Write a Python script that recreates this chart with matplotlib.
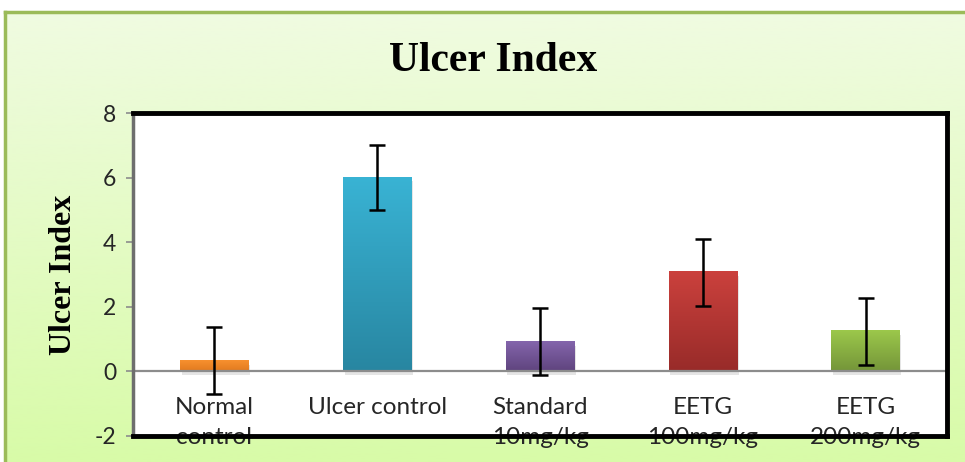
import numpy as np
import matplotlib.pyplot as plt
from matplotlib.colors import LinearSegmentedColormap
from matplotlib.patches import Rectangle

plt.rcParams["axes.unicode_minus"] = False

# Data
groups = ["Normal\ncontrol", "Ulcer control", "Standard\n10mg/kg", "EETG\n100mg/kg", "EETG\n200mg/kg"]
ulcer_index = [0.33, 6.0, 0.92, 3.07, 1.24]
sem = [1.03, 1.0, 1.03, 1.03, 1.03]
y_ticks = [-2, 0, 2, 4, 6, 8]

# gradient (top, bottom) for each bar
bar_colors = [("#f7912f", "#e27a1f"), ("#39b3d4", "#2886a1"), ("#8465ac", "#5f447e"),
              ("#cb413d", "#982b29"), ("#9cc84b", "#749539")]

fig = plt.figure(figsize=(9.65, 4.62), dpi=100)
fig.patch.set_facecolor("white")

# light green chart-area background with gradient
bg = fig.add_axes([5 / 965, 0, 1 - 5 / 965, 1 - 12 / 462], zorder=-5)
grad = np.linspace(0, 1, 256).reshape(-1, 1)
bg_cmap = LinearSegmentedColormap.from_list("bg", ["#f0fbe1", "#d8fba8"])
bg.imshow(grad, aspect="auto", cmap=bg_cmap, extent=[0, 1, 0, 1], origin="upper")
bg.set_xlim(0, 1)
bg.set_ylim(0, 1)
bg.set_xticks([])
bg.set_yticks([])
for s in bg.spines.values():
    s.set_color("#9bbb59")
    s.set_linewidth(2.5)
bg.spines["right"].set_visible(False)
bg.spines["bottom"].set_visible(False)

ax = fig.add_axes([133 / 965, 1 - 436 / 462, (947 - 133) / 965, (436 - 113) / 462])
ax.set_facecolor("white")
x = np.arange(len(groups))
bars = ax.bar(x, ulcer_index, width=0.42, color="none", zorder=2)

for b, (c_top, c_bot) in zip(bars, bar_colors):
    x0, y0 = b.get_x(), b.get_y()
    w, h = b.get_width(), b.get_height()
    # soft shadow
    ax.add_patch(Rectangle((x0 + 0.01, y0 - 0.12), w, h, color="#000000", alpha=0.10,
                           zorder=1.5, lw=0))
    cm = LinearSegmentedColormap.from_list("g", [c_top, c_bot])
    ax.imshow(grad, aspect="auto", cmap=cm, extent=[x0, x0 + w, y0, y0 + h],
              origin="upper", zorder=2)

ax.errorbar(x, ulcer_index, yerr=sem, fmt="none", ecolor="black", elinewidth=1.8,
            capsize=6, capthick=1.8, zorder=4)

ax.axhline(0, color="#8c8c8c", lw=1.6, zorder=3)

ax.set_xlim(-0.5, len(groups) - 0.5)
ax.set_ylim(-2, 8)
ax.set_yticks(y_ticks)
ax.set_xticks([])
ax.tick_params(axis="y", length=5, width=1.2, color="#8c8c8c", pad=7,
               labelsize=16.5)
for lab in ax.get_yticklabels():
    lab.set_fontfamily("Lato")
    lab.set_color("#262626")

for xi, g in zip(x, groups):
    ax.text(xi, -0.8, g, ha="center", va="top", fontsize=17.5, family="Lato",
            color="#262626", linespacing=1.5, clip_on=False, zorder=2)

for side in ["top", "right", "bottom"]:
    ax.spines[side].set_color("black")
    ax.spines[side].set_linewidth(3.5)
    ax.spines[side].set_zorder(6)
ax.spines["left"].set_color("#6e6e6e")
ax.spines["left"].set_linewidth(2.5)
ax.spines["left"].set_zorder(6)

ax.set_ylabel("Ulcer Index", family="Liberation Serif", fontweight="bold",
              fontsize=23, labelpad=12)

fig.text(493 / 965, 1 - 61 / 462, "Ulcer Index", ha="center", va="center",
         family="Liberation Serif", fontweight="bold", fontsize=30)

fig.savefig("out.png", dpi=100)
